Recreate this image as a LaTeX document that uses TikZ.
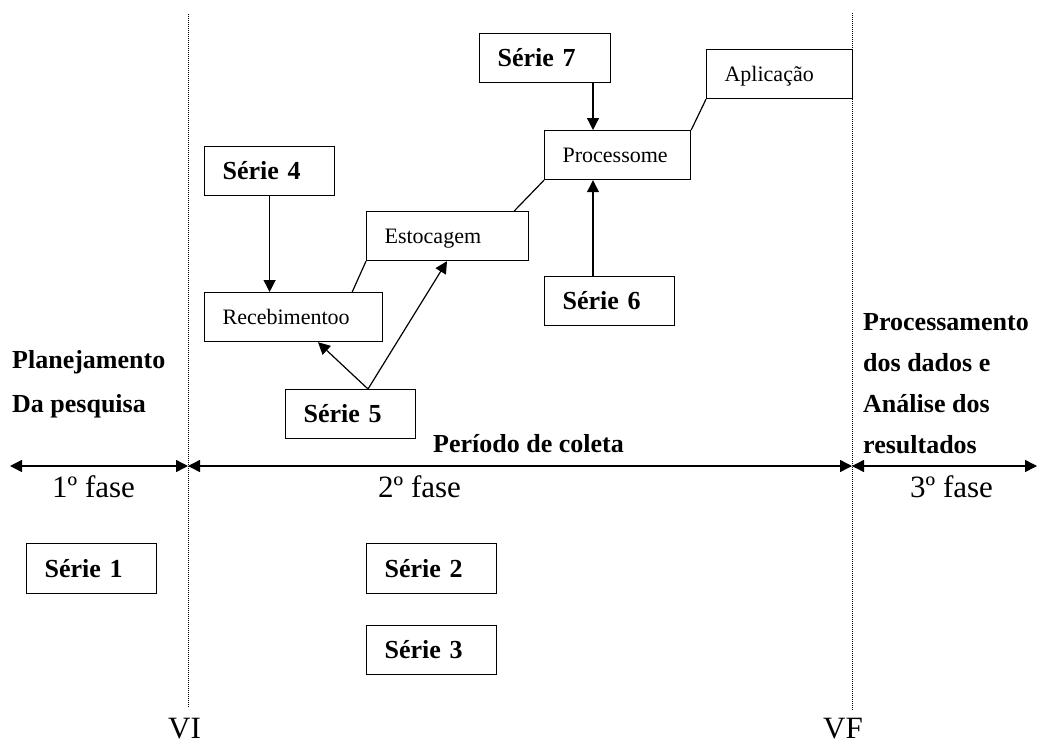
\documentclass[tikz,border=0pt]{standalone}
\usepackage{fontspec}
\setmainfont{Liberation Serif}
\usetikzlibrary{arrows.meta}

\begin{document}
\begin{tikzpicture}[x=1pt,y=-1pt,
  % framed boxes, text set flush left
  boxbase/.style={draw, line width=1.2pt, rectangle, anchor=north west,
    inner xsep=18pt, inner ysep=0pt, minimum height=49pt, align=left,
    text depth=0pt},
  serie/.style={boxbase, font=\fontsize{26}{30}\selectfont\bfseries,
    text height=17pt, text width=94pt},
  stage/.style={boxbase, font=\fontsize{22}{26}\selectfont,
    text height=14.6pt},
  tip/.style={-{Triangle[length=12pt,width=12pt]}},
  arr/.style={tip, line width=1.2pt},
  link/.style={line width=1.2pt},
  span/.style={{Triangle[length=12pt,width=12pt]}-{Triangle[length=12pt,width=12pt]}, line width=1.4pt},
  limit/.style={line width=1pt, dash pattern=on 1pt off 1pt},
  heading/.style={anchor=base west, inner sep=0pt, font=\fontsize{26}{30}\selectfont\bfseries},
  phase/.style={anchor=base west, inner sep=0pt, font=\fontsize{31}{36}\selectfont},
]
\useasboundingbox (0,0) rectangle (1038,744);

% limits of the collection period
\coordinate (viTop) at (188,14);
\coordinate (viBot) at (188,707);
\coordinate (vfTop) at (852,13);
\coordinate (vfBot) at (852,711);
\draw[limit] (viTop) -- (viBot);
\draw[limit] (vfTop) -- (vfBot);

% stages of the collection
\node[stage, text width=142pt] (rec) at (204,292) {Recebimentoo};
\node[stage, text width=126pt] (est) at (366,211) {Estocagem};
\node[stage, text width=110pt] (proc) at (544,130) {Processome};
\node[stage, text width=110pt] (apl) at (706,49) {Aplicação};

% series
\node[serie] (s4) at (204,146) {Série 4};
\node[serie] (s5) at (285,389) {Série 5};
\node[serie] (s6) at (544,276) {Série 6};
\node[serie, text width=95pt] (s7) at (479,33) {Série 7};
\node[serie, minimum height=50pt] (s1) at (26,543) {Série 1};
\node[serie, minimum height=50pt] (s2) at (366,543) {Série 2};
\node[serie] (s3) at (366,625) {Série 3};

% chain of stages
\draw[link] ([xshift=-31pt]rec.north east) -- (est.south west);
\draw[link] ([xshift=-15pt]est.north east) -- (proc.south west);
\draw[link] (proc.north east) -- (apl.south west);

% series feeding the stages
\draw[arr] (s4.south) -- (s4.south |- rec.north);
\draw[arr] ([xshift=83pt]s5.north west) -- ([xshift=114pt]rec.south west);
\draw[arr] ([xshift=83pt]s5.north west) -- ([xshift=81pt]est.south west);
\draw[arr] ([xshift=114pt]s7.south west) -- ([xshift=49pt]proc.north west);
\draw[arr] ([xshift=49pt]s6.north west) -- ([xshift=49pt]proc.south west);

% time axis
\coordinate (axL) at (10,466);
\coordinate (axVI) at (188,466);
\coordinate (axVF) at (852,466);
\coordinate (axR) at (1037,466);
\draw[span] (axL) -- (axVI);
\draw[span] (axVI) -- (axVF);
\draw[span] (axVF) -- (axR);

% phase headings
\node[heading] (h1a) at (12,368) {Planejamento};
\node[heading] (h1b) at (12,412) {Da pesquisa};
\node[heading] (h2) at (433,452) {Período de coleta};
\node[heading] (h3a) at (863,330) {Processamento};
\node[heading] (h3b) at (863,371) {dos dados e};
\node[heading] (h3c) at (863,412) {Análise dos};
\node[heading] (h3d) at (863,453) {resultados};

\node[phase] (p1) at (52,497) {1º fase};
\node[phase] (p2) at (378,497) {2º fase};
\node[phase] (p3) at (910,497) {3º fase};

\node[phase] (vi) at (168,738) {VI};
\node[phase] (vf) at (823,738) {VF};
\end{tikzpicture}
\end{document}
